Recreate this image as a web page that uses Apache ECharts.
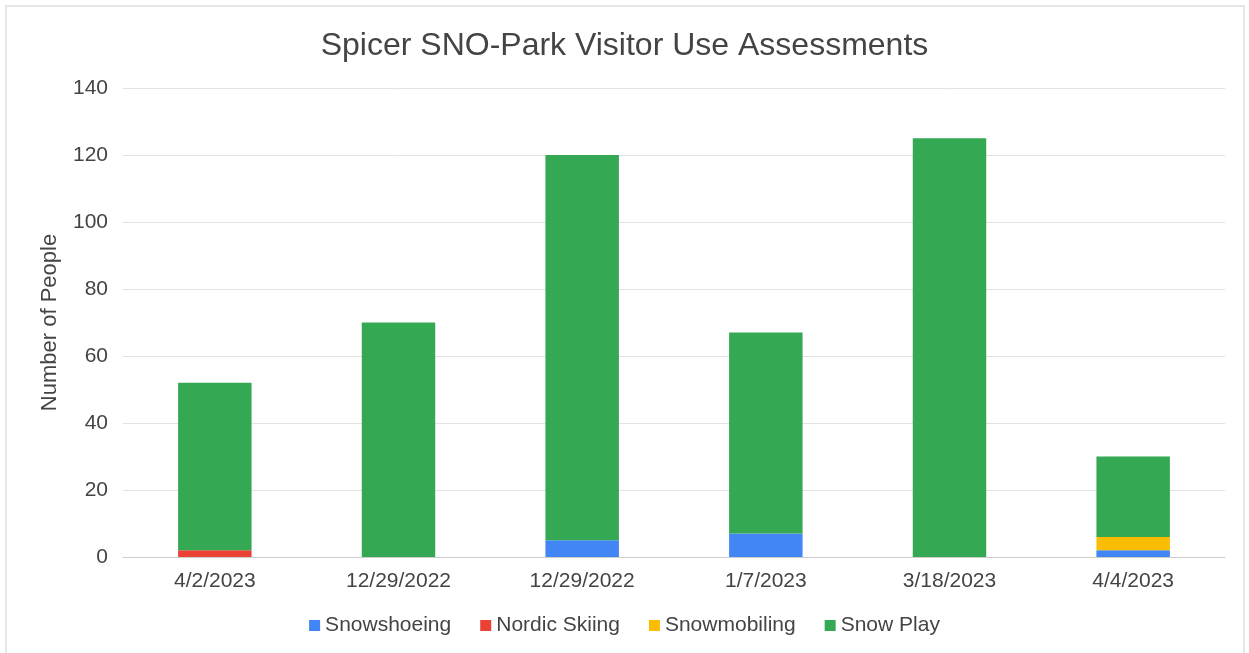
<!DOCTYPE html>
<html>
<head>
<meta charset="utf-8">
<script src="https://cdn.jsdelivr.net/npm/echarts@6/dist/echarts.min.js"></script>
<style>
  html, body { margin: 0; padding: 0; background: #ffffff; }
  #chart { width: 1249px; height: 653px; }
</style>
</head>
<body>
<div id="chart"></div>
<script>
// Survey dates (one bar per assessment)
const categories = ['4/2/2023', '12/29/2022', '12/29/2022', '1/7/2023', '3/18/2023', '4/4/2023'];

// Visitors counted per activity
const snowshoeing  = [0, 0, 5, 7, 0, 2];
const nordicSkiing = [2, 0, 0, 0, 0, 0];
const snowmobiling = [0, 0, 0, 0, 0, 4];
const snowPlay     = [50, 70, 115, 60, 125, 24];

const seriesNames  = ['Snowshoeing', 'Nordic Skiing', 'Snowmobiling', 'Snow Play'];
const seriesColors = ['#4285f4', '#ea4335', '#fbbc04', '#34a853'];
const seriesValues = [snowshoeing, nordicSkiing, snowmobiling, snowPlay];

const textFont = '"Liberation Sans", Arial, Helvetica, sans-serif';

const chart = echarts.init(document.getElementById('chart'), null, { renderer: 'canvas' });

chart.setOption({
  backgroundColor: '#ffffff',
  animation: false,
  title: {
    text: 'Spicer SNO-Park Visitor Use Assessments',
    left: 'center',
    top: 25,
    textStyle: { fontFamily: textFont, fontSize: 32, fontWeight: 'normal', color: '#444444' }
  },
  graphic: [{
    type: 'rect',
    shape: { x: 6, y: 6, width: 1238, height: 680 },
    style: { fill: 'none', stroke: '#e6e6e6', lineWidth: 2 },
    silent: true
  }],
  legend: {
    bottom: 12,
    left: 'center',
    itemWidth: 11,
    itemHeight: 11,
    itemGap: 29,
    icon: 'rect',
    textStyle: { fontFamily: textFont, fontSize: 21, color: '#444444' },
    data: seriesNames
  },
  grid: { left: 123, right: 24, top: 88, bottom: 96 },
  xAxis: {
    type: 'category',
    data: categories,
    axisLine: { lineStyle: { color: '#cccccc', width: 1 } },
    axisTick: { show: false },
    axisLabel: { fontFamily: textFont, fontSize: 21, color: '#444444', margin: 14 }
  },
  yAxis: {
    type: 'value',
    min: 0,
    max: 140,
    interval: 20,
    name: 'Number of People',
    nameLocation: 'middle',
    nameGap: 62,
    nameTextStyle: { fontFamily: textFont, fontSize: 22, color: '#444444' },
    axisLine: { show: false },
    axisTick: { show: false },
    axisLabel: { fontFamily: textFont, fontSize: 21, color: '#444444', margin: 15 },
    splitLine: { lineStyle: { color: '#e2e2e2', width: 1 } }
  },
  series: seriesNames.map((name, i) => ({
    name: name,
    type: 'bar',
    stack: 'total',
    barWidth: '40%',
    itemStyle: { color: seriesColors[i] },
    data: seriesValues[i]
  }))
});
</script>
</body>
</html>
